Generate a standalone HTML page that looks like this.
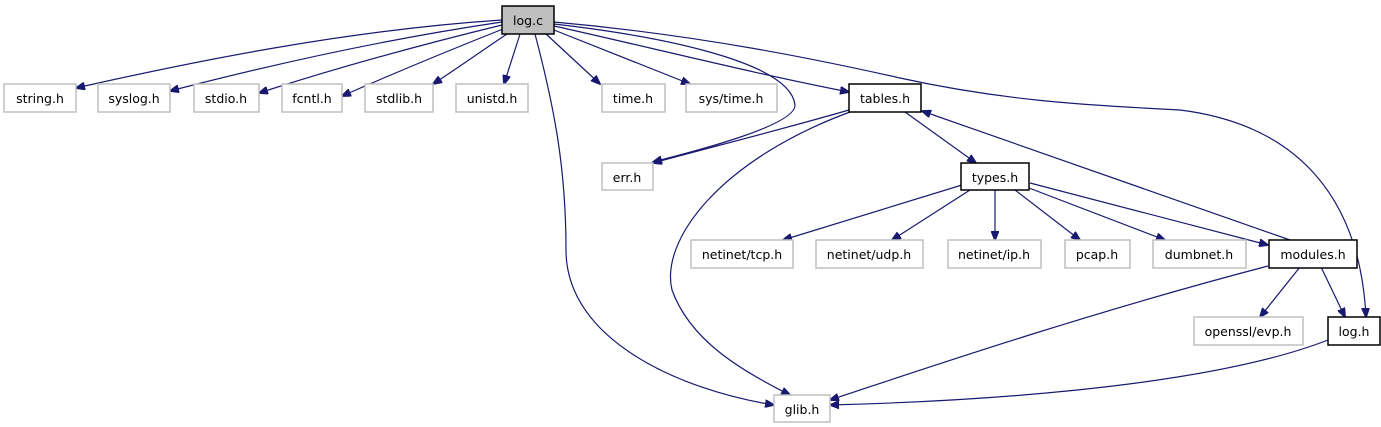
<!DOCTYPE html>
<html><head><meta charset="utf-8"><style>
html,body{margin:0;padding:0;background:#fff;width:1381px;height:427px;overflow:hidden}
svg{display:block}
text{font-family:"DejaVu Sans","Liberation Sans",sans-serif;font-size:12.5px;fill:#000}
.g{fill:#fff;stroke:#bfbfbf;stroke-width:1.5}
.b{fill:#fff;stroke:#000;stroke-width:1.5}
.e{fill:none;stroke:#191970;stroke-width:1.2}
</style></head><body>
<svg width="1381" height="427" viewBox="0 0 1381 427" xmlns="http://www.w3.org/2000/svg">
<defs><marker id="a" markerWidth="10" markerHeight="8" refX="9" refY="4" orient="auto" markerUnits="userSpaceOnUse"><path d="M0,0 L10,4 L0,8 z" fill="#191970" stroke="#191970"/></marker></defs>
<g class="e" marker-end="url(#a)">
<path d="M502,20 C350,30 200,60 76,88"/>
<path d="M502,22 C380,40 270,65 170,91"/>
<path d="M502,25 C420,45 330,70 259,93"/>
<path d="M503,29 C450,50 390,75 342,96"/>
<path d="M507,34 C480,52 455,70 433,84"/>
<path d="M520,34 L504,84"/>
<path d="M546,34 L600,84"/>
<path d="M554,30 L690,84"/>
<path d="M554,26 C640,45 760,75 849,92"/>
<path d="M554,24 C650,35 790,60 795,105 C796,125 700,150 653,162"/>
<path d="M535,34 C555,110 566,170 566,250 C566,340 680,390 774,405"/>
<path d="M554,22 C700,35 820,60 900,78 C1000,100 1080,105 1180,110 C1300,125 1360,200 1366,317"/>
<path d="M849,110 C780,130 700,150 653,163"/>
<path d="M850,112 C720,160 660,240 672,290 C690,340 740,370 790,395"/>
<path d="M905,112 L976,163"/>
<path d="M1290,240 L922,111"/>
<path d="M962,185 L783,240"/>
<path d="M970,190 L892,240"/>
<path d="M995,190 L995,240"/>
<path d="M1015,190 L1080,240"/>
<path d="M1029,188 L1165,240"/>
<path d="M1030,183 L1268,245"/>
<path d="M1300,267 L1260,317"/>
<path d="M1321,267 L1345,317"/>
<path d="M1268,266 C1100,310 950,360 830,400"/>
<path d="M1328,340 C1200,390 950,402 830,405"/>
</g>
<rect x="502" y="6" width="52" height="28" fill="#bfbfbf" stroke="#000" stroke-width="1.5"/><text x="528" y="25" text-anchor="middle">log.c</text>
<rect class="g" x="4" y="84" width="72" height="28"/><text x="40" y="103" text-anchor="middle">string.h</text>
<rect class="g" x="98" y="84" width="72" height="28"/><text x="134" y="103" text-anchor="middle">syslog.h</text>
<rect class="g" x="194" y="84" width="65" height="28"/><text x="226" y="103" text-anchor="middle">stdio.h</text>
<rect class="g" x="282" y="84" width="60" height="28"/><text x="312" y="103" text-anchor="middle">fcntl.h</text>
<rect class="g" x="365" y="84" width="68" height="28"/><text x="399" y="103" text-anchor="middle">stdlib.h</text>
<rect class="g" x="456" y="84" width="72" height="28"/><text x="492" y="103" text-anchor="middle">unistd.h</text>
<rect class="g" x="602" y="84" width="63" height="28"/><text x="633" y="103" text-anchor="middle">time.h</text>
<rect class="g" x="686" y="84" width="91" height="28"/><text x="731" y="103" text-anchor="middle">sys/time.h</text>
<rect class="b" x="849" y="84" width="72" height="28"/><text x="885" y="103" text-anchor="middle">tables.h</text>
<rect class="g" x="602" y="163" width="51" height="27"/><text x="627" y="182" text-anchor="middle">err.h</text>
<rect class="b" x="961" y="163" width="68" height="27"/><text x="995" y="182" text-anchor="middle">types.h</text>
<rect class="g" x="691" y="240" width="102" height="28"/><text x="742" y="259" text-anchor="middle">netinet/tcp.h</text>
<rect class="g" x="816" y="240" width="107" height="28"/><text x="869" y="259" text-anchor="middle">netinet/udp.h</text>
<rect class="g" x="948" y="240" width="93" height="28"/><text x="994" y="259" text-anchor="middle">netinet/ip.h</text>
<rect class="g" x="1065" y="240" width="65" height="28"/><text x="1097" y="259" text-anchor="middle">pcap.h</text>
<rect class="g" x="1153" y="240" width="93" height="28"/><text x="1199" y="259" text-anchor="middle">dumbnet.h</text>
<rect class="b" x="1269" y="240" width="88" height="28"/><text x="1313" y="259" text-anchor="middle">modules.h</text>
<rect class="g" x="1194" y="317" width="109" height="28"/><text x="1248" y="336" text-anchor="middle">openssl/evp.h</text>
<rect class="b" x="1328" y="317" width="52" height="28"/><text x="1354" y="336" text-anchor="middle">log.h</text>
<rect class="g" x="774" y="395" width="56" height="27"/><text x="802" y="414" text-anchor="middle">glib.h</text>
</svg>
</body></html>
